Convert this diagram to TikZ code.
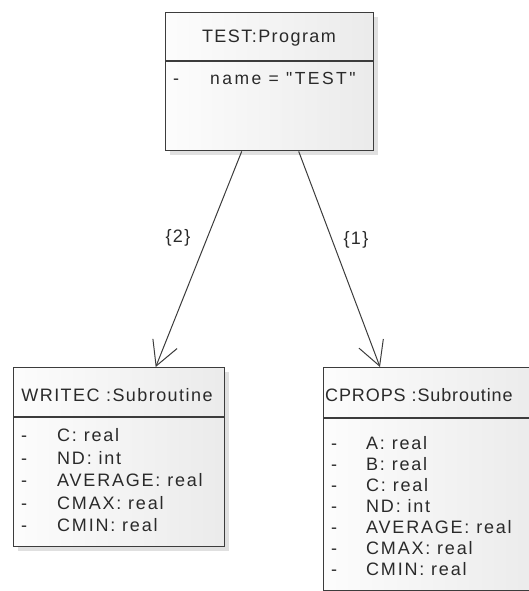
\documentclass[tikz,border=0pt]{standalone}
\usepackage{fontspec}
\newfontfamily\umlfont[LetterSpace=8]{Liberation Sans}
\newfontfamily\umlrow[LetterSpace=10]{Liberation Sans}
\newfontfamily\umltight[LetterSpace=5]{Liberation Sans}
\newfontfamily\umlwide[LetterSpace=14]{Liberation Sans}
\usetikzlibrary{arrows.meta,shadows}
\definecolor{edgec}{HTML}{3C3C3C}
\definecolor{txtc}{HTML}{2A2A2A}
\begin{document}
\begin{tikzpicture}[x=1pt,y=-1pt,
  umlbox/.style={draw=edgec, line width=1.4pt, left color=gray!2, right color=gray!16,
    drop shadow={shadow xshift=4pt, shadow yshift=-4pt, fill=gray!40, opacity=0.6},
    inner sep=0pt, anchor=north west, rectangle},
  sepline/.style={draw=edgec, line width=1.4pt},
  txt/.style={text=txtc, font=\umlfont\fontsize{18}{21}\selectfont, inner sep=0pt},
  row/.style={text=txtc, font=\umlrow\fontsize{18}{21}\selectfont, inner sep=0pt,
    anchor=west, text height=12.5pt, text depth=3.5pt},
  conn/.style={draw=edgec, line width=1pt, -{Straight Barb[length=24pt,width=26pt,line width=1pt]}},
  lbl/.style={txt}]
\useasboundingbox (0,0) rectangle (528,591);

% boxes
\node[umlbox, minimum width=208pt, minimum height=138pt] (prog) at (165,12) {};
\node[umlbox, minimum width=211pt, minimum height=179pt] (writec) at (13,367) {};
\node[umlbox, minimum width=217pt, minimum height=223pt] (cprops) at (323,367) {};

\draw[sepline] ([yshift=-49pt]prog.north west) -- ([yshift=-49pt]prog.north east);
\draw[sepline] ([yshift=-50pt]writec.north west) -- ([yshift=-50pt]writec.north east);
\draw[sepline] ([yshift=-51pt]cprops.north west) -- ([yshift=-51pt]cprops.north east);

% program text
\node[txt] (progtitle) at (269,38) {TEST:Program};
\node[row] (progdash) at (173,80) {-};
\node[row, font=\umlwide\fontsize{17.5}{20}\selectfont] (progname) at (210,80) {name = "TEST"};

% writec text
\node[txt] (wtitle) at (117,395) {WRITEC :Subroutine};
\foreach \t [count=\i from 0] in {C: real, ND: int, AVERAGE: real, CMAX: real, CMIN: real}{
  \node[row] (wd\i) at (21,437+22.5*\i) {-};
  \node[row] (wr\i) at (57,437+22.5*\i) {\t};
}

% cprops text
\node[txt, anchor=west, font=\umltight\fontsize{18}{21}\selectfont] (ctitle) at (325,395) {CPROPS :Subroutine};
\foreach \t [count=\i from 0] in {A: real, B: real, C: real, ND: int, AVERAGE: real, CMAX: real, CMIN: real}{
  \node[row] (cd\i) at (331,445+21*\i) {-};
  \node[row] (cr\i) at (366,445+21*\i) {\t};
}

% connectors
\draw[conn] ([xshift=-28pt]prog.south) -- ([xshift=36.5pt]writec.north);
\draw[conn] ([xshift=29pt]prog.south) -- ([xshift=57pt]cprops.north west);
\node[lbl] (l2) at (178,238) {\{2\}};
\node[lbl] (l1) at (356,240) {\{1\}};
\end{tikzpicture}
\end{document}
